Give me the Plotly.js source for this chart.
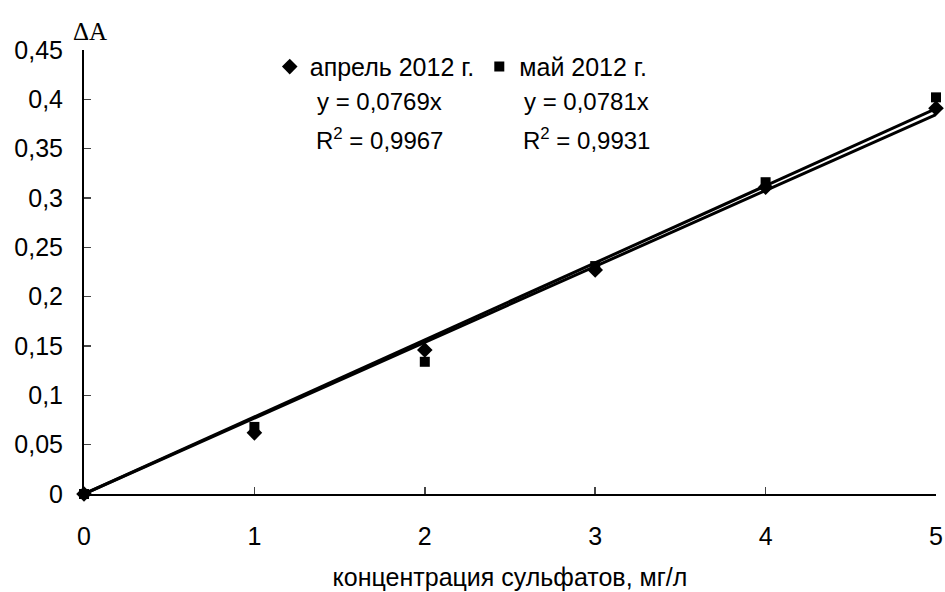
<!DOCTYPE html>
<html><head><meta charset="utf-8">
<script src="https://cdn.plot.ly/plotly-3.0.1.min.js"></script>
<style>html,body{margin:0;padding:0;background:#fff}#chart{width:945px;height:592px}</style>
</head><body><div id="chart"></div>
<script>
var conc = [0, 1, 2, 3, 4, 5];
var april = [0, 0.062, 0.146, 0.227, 0.311, 0.391];
var may = [0, 0.068, 0.134, 0.231, 0.316, 0.402];
var aprilSlope = 0.0769;
var maySlope = 0.0781;
var aprilName = 'апрель 2012 г.';
var mayName = 'май 2012 г.';
var aprilEq = ['y = 0,0769x', 'R<sup>2</sup> = 0,9967'];
var mayEq = ['y = 0,0781x', 'R<sup>2</sup> = 0,9931'];
var yTickVals = [0, 0.05, 0.1, 0.15, 0.2, 0.25, 0.3, 0.35, 0.4, 0.45];
var yTickText = ['0', '0,05', '0,1', '0,15', '0,2', '0,25', '0,3', '0,35', '0,4', '0,45'];
var xTickVals = [0, 1, 2, 3, 4, 5];
var xTitle = 'концентрация сульфатов, мг/л';
var yTitle = 'ΔA';

var lineX = [conc[0], conc[conc.length - 1]];
var font = 'Liberation Sans, Arial, sans-serif';

var traces = [
  {x: lineX, y: lineX.map(function(v){return v * maySlope;}), mode: 'lines', showlegend: false,
   line: {color: '#000', width: 3}, hoverinfo: 'skip', cliponaxis: false},
  {x: lineX, y: lineX.map(function(v){return v * aprilSlope;}), mode: 'lines', showlegend: false,
   line: {color: '#000', width: 3}, hoverinfo: 'skip', cliponaxis: false},
  {x: conc, y: april, name: aprilName, mode: 'markers', cliponaxis: false,
   marker: {symbol: 'diamond', size: 12, color: '#000'}},
  {x: conc, y: may, name: mayName, mode: 'markers', cliponaxis: false,
   marker: {symbol: 'square', size: 10, color: '#000'}}
];

var layout = {
  width: 945, height: 592,
  margin: {l: 84, r: 9, t: 50, b: 98},
  paper_bgcolor: '#fff', plot_bgcolor: '#fff',
  font: {family: font, size: 24, color: '#000'},
  showlegend: true,
  legend: {orientation: 'h', x: 0.218, y: 0.962, xanchor: 'left', yanchor: 'middle',
           font: {family: font, size: 25, color: '#000'}, itemwidth: 30, bgcolor: 'rgba(0,0,0,0)'},
  xaxis: {range: [0, 5], tickvals: xTickVals, ticks: 'inside', ticklen: 7, tickwidth: 1.5,
          showline: true, linewidth: 2, linecolor: '#000', showgrid: false, zeroline: false,
          ticklabelstandoff: 19, tickfont: {family: font, size: 25},
          title: {text: xTitle, font: {family: font, size: 25}, standoff: 19}},
  yaxis: {range: [0, 0.45], tickvals: yTickVals, ticktext: yTickText, ticks: 'inside', ticklen: 7, tickwidth: 1.5,
          showline: true, linewidth: 2, linecolor: '#000', showgrid: false, zeroline: false,
          ticklabelstandoff: 14, tickfont: {family: font, size: 25}},
  annotations: [
    {xref: 'paper', yref: 'paper', x: 0.007, y: 1, xanchor: 'center', yanchor: 'middle', yshift: 19,
     text: yTitle, showarrow: false, font: {family: 'Liberation Serif, Times New Roman, serif', size: 25}},
    {xref: 'x', yref: 'y', x: 1.737, y: 0.398, text: aprilEq[0], showarrow: false},
    {xref: 'x', yref: 'y', x: 1.737, y: 0.360, text: aprilEq[1], showarrow: false},
    {xref: 'x', yref: 'y', x: 2.95, y: 0.398, text: mayEq[0], showarrow: false},
    {xref: 'x', yref: 'y', x: 2.95, y: 0.360, text: mayEq[1], showarrow: false}
  ]
};

Plotly.newPlot('chart', traces, layout, {displayModeBar: false, staticPlot: true});
</script></body></html>
